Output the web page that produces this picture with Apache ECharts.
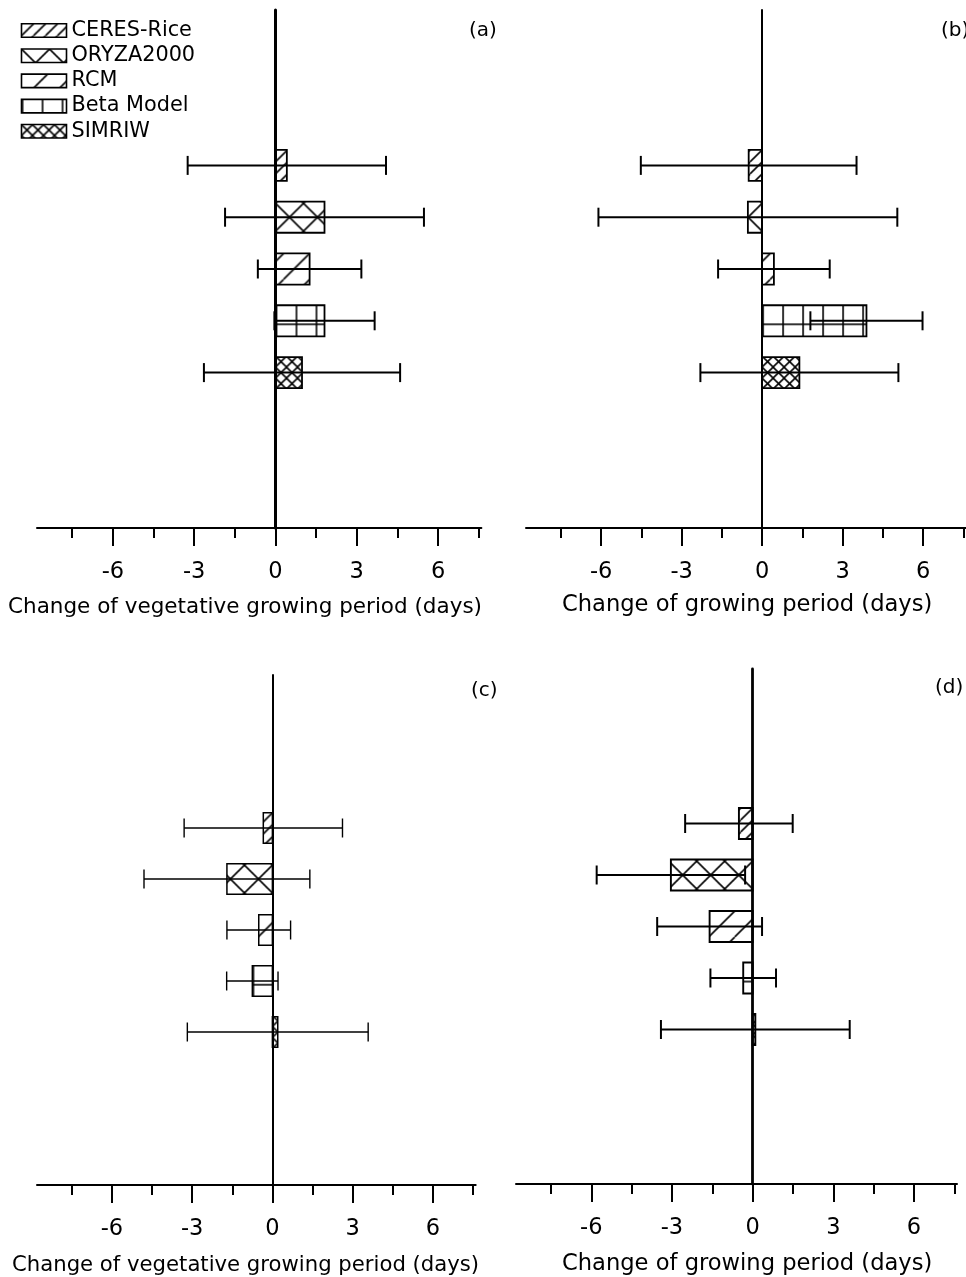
<!DOCTYPE html>
<html>
<head>
<meta charset="utf-8">
<script src="https://cdn.jsdelivr.net/npm/echarts@6/dist/echarts.min.js"></script>
<style>
  html, body { margin: 0; padding: 0; background: #fff; }
  #chart { width: 966px; height: 1277px; }
</style>
</head>
<body>
<div id="chart"></div>
<script>
// ---- data -------------------------------------------------------------
const models = ['CERES-Rice', 'ORYZA2000', 'RCM', 'Beta Model', 'SIMRIW'];

// mean change (days) and half-width of the error bar for each model
const meanA = [0.42, 1.81, 1.26, 1.81, 0.98];
const errA  = [3.66, 3.67, 1.91, 1.85, 3.62];
const meanB = [-0.50, -0.53, 0.44, 3.89, 1.39];
const errB  = [4.02, 5.57, 2.08, 2.09, 3.69];
const meanC = [-0.34, -1.70, -0.51, -0.75, 0.20];
const errC  = [2.96, 3.10, 1.19, 0.96, 3.38];
const meanD = [-0.51, -3.04, -1.60, -0.35, 0.10];
const errD  = [2.00, 2.76, 1.95, 1.22, 3.51];

const majorTicks = [-6, -3, 0, 3, 6];
const minorTicks = [-7.5, -4.5, -1.5, 1.5, 4.5, 7.5];
const axisTitles = [
  'Change of vegetative growing period (days)',
  'Change of growing period (days)',
  'Change of vegetative growing period (days)',
  'Change of growing period (days)'
];
const panelTags = ['(a)', '(b)', '(c)', '(d)'];

// ---- layout -------------------------------------------------------------
const FONT = 'DejaVu Sans';
const INK = '#000';
const X_MIN = -8.8, X_MAX = 7.6;
const SLOT_OFFSET = 3;     // empty slots above the first bar
const SLOT_COUNT = 10;

const panels = [
  { grid: { left: 37,  top: 10,  width: 444.4, height: 518 }, vLine: 3,   bar: 1.8, err: 2.0, titleX: 8,   titleY: 607.5,  titleSize: 21.5, tagX: 469, tagY: 30.5 },
  { grid: { left: 526, top: 10,  width: 444.4, height: 518 }, vLine: 2,   bar: 1.8, err: 2.0, titleX: 562, titleY: 605,    titleSize: 22.6, tagX: 941, tagY: 31 },
  { grid: { left: 37,  top: 675, width: 438.7, height: 510 }, vLine: 2,   bar: 1.5, err: 1.4, titleX: 12,  titleY: 1265.5, titleSize: 21.2, tagX: 471, tagY: 691 },
  { grid: { left: 516, top: 669, width: 441,   height: 515 }, vLine: 2.8, bar: 1.9, err: 2.0, titleX: 562, titleY: 1264.5, titleSize: 22.6, tagX: 935, tagY: 688 }
];
const panelData = [[meanA, errA], [meanB, errB], [meanC, errC], [meanD, errD]];

// ---- hatch fills ----------------------------------------------------------
function makeTile(w, h, draw) {
  const c = document.createElement('canvas');
  c.width = w; c.height = h;
  const ctx = c.getContext('2d');
  ctx.strokeStyle = '#000';
  ctx.lineWidth = 1.6;
  draw(ctx, w, h);
  return c;
}
function seg(ctx, x1, y1, x2, y2) {
  ctx.beginPath(); ctx.moveTo(x1, y1); ctx.lineTo(x2, y2); ctx.stroke();
}
function forward(ctx, p) {   // "/" lines
  for (let k = -1; k <= 1; k++) seg(ctx, k * p, p, k * p + p, 0);
}
function backward(ctx, p) {  // "\" lines
  for (let k = -1; k <= 1; k++) seg(ctx, k * p, 0, k * p + p, p);
}

const hatch = [
  { tile: makeTile(12, 12, c => forward(c, 12)), dx: 0, dy: 'top' },
  { tile: makeTile(28, 28, c => { forward(c, 28); backward(c, 28); }), dx: 0, dy: 14 },
  { tile: makeTile(26, 26, c => forward(c, 26)), dx: 8, dy: 'top' },
  { tile: makeTile(20, 64, c => { seg(c, 1, 0, 1, 64); seg(c, 0, 19, 20, 19); }), dx: 0, dy: 'top' },
  { tile: makeTile(11, 11, c => { forward(c, 11); backward(c, 11); }), dx: 0, dy: 5.5 }
];

// ---- bar + error bar ---------------------------------------------------
function drawBar(api, modelIdx, P) {
  const mean = api.value(0), pos = api.value(1), err = api.value(2);
  const p0 = api.coord([0, pos]);
  const pm = api.coord([mean, pos]);
  const lo = api.coord([mean - err, pos]);
  const hi = api.coord([mean + err, pos]);
  const unit = api.size([0, 1])[1];
  const h = unit * 0.6;
  const yc = p0[1];
  const top = yc - h / 2;
  const h0 = hatch[modelIdx];
  const fill = {
    image: h0.tile, repeat: 'repeat',
    x: p0[0] + h0.dx,
    y: h0.dy === 'top' ? top : yc - h0.dy
  };
  const capHalf = 9.5;
  return {
    type: 'group',
    children: [
      { type: 'rect',
        shape: { x: Math.min(p0[0], pm[0]), y: top, width: Math.abs(pm[0] - p0[0]), height: h },
        style: { fill: fill, stroke: INK, lineWidth: P.bar } },
      { type: 'line', shape: { x1: lo[0], y1: yc, x2: hi[0], y2: yc },
        style: { stroke: INK, lineWidth: P.err } },
      { type: 'line', shape: { x1: lo[0], y1: yc - capHalf, x2: lo[0], y2: yc + capHalf },
        style: { stroke: INK, lineWidth: P.err } },
      { type: 'line', shape: { x1: hi[0], y1: yc - capHalf, x2: hi[0], y2: yc + capHalf },
        style: { stroke: INK, lineWidth: P.err } }
    ]
  };
}

// ---- option -----------------------------------------------------------
const grids = [], xAxes = [], yAxes = [], series = [], graphics = [];

panels.forEach((P, g) => {
  grids.push(Object.assign({ containLabel: false }, P.grid));

  // main x axis: line, major ticks, labels
  xAxes.push({
    gridIndex: g, type: 'value', min: X_MIN, max: X_MAX, position: 'bottom',
    axisLine: { show: true, onZero: false, lineStyle: { color: INK, width: 2 } },
    axisTick: { show: true, customValues: majorTicks, length: 18, lineStyle: { color: INK, width: 2 } },
    axisLabel: { show: true, customValues: majorTicks, margin: 44, verticalAlign: 'middle',
                 fontFamily: FONT, fontSize: 22.5, color: INK },
    splitLine: { show: false }
  });
  // companion x axis carrying the minor ticks
  xAxes.push({
    gridIndex: g, type: 'value', min: X_MIN, max: X_MAX, position: 'bottom',
    axisLine: { show: false, onZero: false },
    axisTick: { show: true, customValues: minorTicks, length: 10, lineStyle: { color: INK, width: 2 } },
    axisLabel: { show: false },
    splitLine: { show: false }
  });
  // vertical slot axis, drawn through x = 0
  yAxes.push({
    gridIndex: g, type: 'value', min: 0, max: SLOT_COUNT, inverse: true,
    axisLine: { show: true, onZero: true, lineStyle: { color: INK, width: P.vLine } },
    axisTick: { show: false }, axisLabel: { show: false }, splitLine: { show: false }
  });

  const [means, errs] = panelData[g];
  models.forEach((name, i) => {
    series.push({
      type: 'custom', name: name,
      xAxisIndex: 2 * g, yAxisIndex: g,
      itemStyle: { color: { image: hatch[i].tile, repeat: 'repeat' } },
      encode: { x: 0, y: 1 },
      data: [[means[i], i + SLOT_OFFSET, errs[i]]],
      renderItem: (params, api) => drawBar(api, i, P),
      z: 3, silent: true
    });
  });

  graphics.push({
    type: 'text', x: P.titleX, y: P.titleY,
    style: { text: axisTitles[g], fontFamily: FONT, fontSize: P.titleSize, fill: INK,
             align: 'left', verticalAlign: 'middle' }
  });
  graphics.push({
    type: 'text', x: P.tagX, y: P.tagY,
    style: { text: panelTags[g], fontFamily: FONT, fontSize: 20, fill: INK,
             align: 'left', verticalAlign: 'middle' }
  });
});

const option = {
  backgroundColor: '#fff',
  animation: false,
  textStyle: { fontFamily: FONT },
  grid: grids,
  xAxis: xAxes,
  yAxis: yAxes,
  legend: {
    data: models, orient: 'vertical', left: 20.7, top: 20, padding: 0,
    icon: 'rect', itemWidth: 45, itemHeight: 13.5, itemGap: 4.2,
    selectedMode: false,
    itemStyle: { borderColor: INK, borderWidth: 1.6 },
    textStyle: { fontFamily: FONT, fontSize: 20.8, color: INK, lineHeight: 20 }
  },
  graphic: graphics,
  series: series
};

const chart = echarts.init(document.getElementById('chart'), null, { renderer: 'canvas' });
chart.setOption(option);
</script>
</body>
</html>
